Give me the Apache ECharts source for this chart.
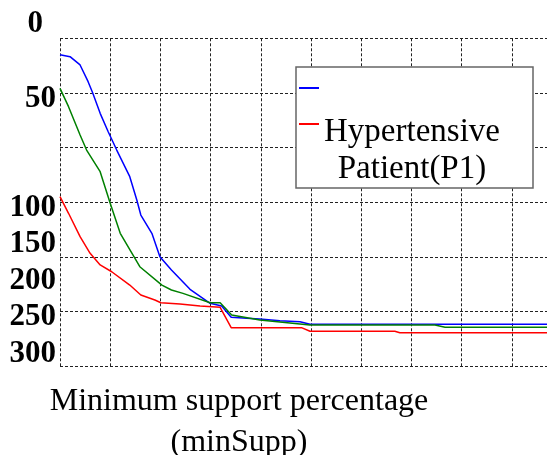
<!DOCTYPE html>
<html>
<head>
<meta charset="utf-8">
<script src="https://cdn.jsdelivr.net/npm/echarts@6/dist/echarts.min.js"></script>
<style>
  html, body { margin: 0; padding: 0; background: #fff; }
  #chart { width: 547px; height: 455px; }
</style>
</head>
<body>
<div id="chart"></div>
<script>
// values (y axis runs downward, 0 at the top)
const yTickLabels = ['0', '50', '100', '150', '200', '250', '300'];

const blueX = [0, 0.2, 0.4, 0.56, 0.65, 0.8, 0.96, 1.13, 1.39, 1.53, 1.61, 1.83, 1.99, 2.22, 2.59, 2.99, 3.22, 3.41, 3.72, 3.98, 4.38, 4.78, 4.98, 10];
const blueY = [15.0, 16.8, 24.4, 39.7, 49.8, 68.7, 85.5, 102.3, 126.7, 148.0, 161.8, 178.5, 199.9, 212.1, 229.8, 242.6, 245.1, 255.4, 256.3, 257.0, 258.5, 259.5, 261.8, 261.8];

const greenX = [0, 0.17, 0.4, 0.53, 0.8, 1.0, 1.2, 1.59, 2.03, 2.22, 2.45, 2.99, 3.19, 3.42, 3.98, 4.38, 4.98, 7.47, 7.67, 10];
const greenY = [45.8, 62.6, 88.5, 102.3, 122.1, 151.1, 178.5, 209.1, 225.9, 230.4, 233.5, 242.1, 242.1, 253.3, 257.9, 259.7, 262.5, 262.5, 264.6, 264.6];

const redX = [0, 0.17, 0.4, 0.6, 0.8, 1.03, 1.39, 1.61, 1.89, 2.01, 2.39, 2.79, 3.19, 3.41, 4.81, 4.98, 6.67, 6.77, 10];
const redY = [145.0, 160.2, 181.6, 196.8, 207.5, 213.7, 225.9, 235.0, 239.6, 242.1, 243.2, 245.1, 246.3, 264.9, 264.9, 268.2, 268.2, 269.5, 269.5];

const blueName = ' ';
const greenName = 'green';
const redName = 'Hypertensive Patient(P1)';
const xName = 'Minimum support percentage\n(minSupp)';

const serif = '"Liberation Serif", "Times New Roman", serif';

// the tick labels in the source sit off their grid lines; padding nudges them there
const labelPad = {
  '0': [0, 13, 29, 0],
  '50': [12, 0, 0, 0],
  '100': [121, 0, 0, 0],
  '150': [84, 0, 0, 0],
  '200': [48, 0, 0, 0],
  '250': [12, 0, 0, 0],
  '300': [0, 0, 24, 0]
};

const zip = (xs, ys) => xs.map((x, i) => [x, ys[i]]);

const rich = {};
yTickLabels.forEach((t) => {
  rich['t' + t] = {
    fontFamily: serif, fontSize: 31, fontWeight: 'bold', color: '#000',
    padding: labelPad[t]
  };
});

const gridLine = { show: true, lineStyle: { color: '#222', width: 1, type: [3, 2] } };

const chart = echarts.init(document.getElementById('chart'));
chart.setOption({
  animation: false,
  backgroundColor: '#fff',
  grid: { left: 60, top: 38.3, width: 502, height: 327.7, outerBoundsMode: 'none', containLabel: false },
  xAxis: {
    type: 'value', min: 0, max: 10, interval: 1,
    axisLine: { show: false }, axisTick: { show: false }, axisLabel: { show: false },
    splitLine: gridLine,
    name: xName, nameLocation: 'middle', nameGap: 15,
    nameTextStyle: {
      fontFamily: serif, fontSize: 32, color: '#000', lineHeight: 41,
      align: 'center', verticalAlign: 'top', padding: [0, 144, 0, 0]
    }
  },
  yAxis: {
    type: 'value', inverse: true, min: 0, max: 300, interval: 50,
    axisLine: { show: false }, axisTick: { show: false },
    splitLine: gridLine,
    axisLabel: {
      margin: 4,
      formatter: (v) => '{t' + v + '|' + yTickLabels[v / 50] + '}',
      rich: rich
    }
  },
  graphic: [{
    type: 'rect', z: 3,
    shape: { x: 296, y: 67, width: 237, height: 121 },
    style: { fill: '#fff', stroke: '#666', lineWidth: 1.5 }
  }],
  legend: [{
    data: [blueName], left: 299, top: 70, padding: 0, orient: 'vertical',
    icon: 'rect', itemWidth: 20, itemHeight: 2, z: 5,
    textStyle: { fontFamily: serif, fontSize: 32, lineHeight: 36, color: '#000' }
  }, {
    data: [redName], left: 299, top: 116, padding: 0, orient: 'vertical',
    icon: 'rect', itemWidth: 20, itemHeight: 2, z: 5,
    formatter: () => '{a|Hypertensive}\n{a|Patient(P1)}',
    textStyle: {
      fontFamily: serif, fontSize: 33, color: '#000', padding: [54, 0, 0, 0],
      rich: { a: { fontFamily: serif, fontSize: 33, lineHeight: 37, color: '#000', align: 'center' } }
    }
  }],
  series: [
    { name: blueName, type: 'line', data: zip(blueX, blueY), showSymbol: false,
      lineStyle: { color: '#0000ff', width: 1.5 }, itemStyle: { color: '#0000ff' }, z: 2 },
    { name: greenName, type: 'line', data: zip(greenX, greenY), showSymbol: false,
      lineStyle: { color: '#008000', width: 1.5 }, itemStyle: { color: '#008000' }, z: 2 },
    { name: redName, type: 'line', data: zip(redX, redY), showSymbol: false,
      lineStyle: { color: '#ff0000', width: 1.5 }, itemStyle: { color: '#ff0000' }, z: 2 }
  ]
});
</script>
</body>
</html>
